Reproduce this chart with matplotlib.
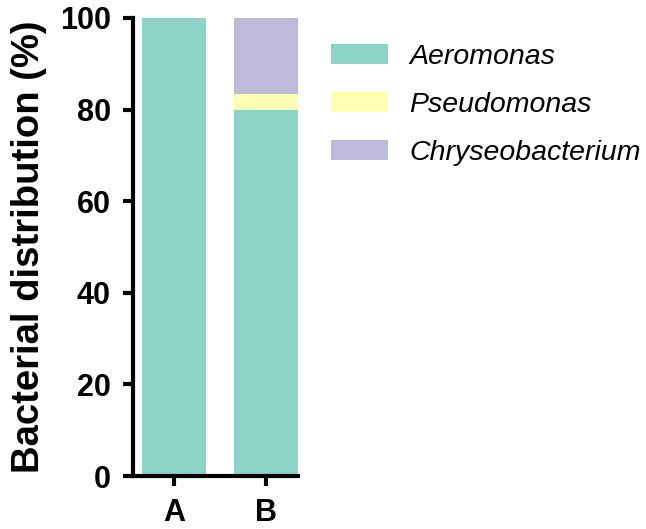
import matplotlib.pyplot as plt
import matplotlib as mpl
from matplotlib.patches import Patch

mpl.rcParams.update({
    "font.family": ["Liberation Sans", "DejaVu Sans"],
    "font.weight": "bold",
    "axes.linewidth": 3,
})

samples = ["A", "B"]
aeromonas = [100, 80]
pseudomonas = [0, 3.3]
chryseobacterium = [0, 16.7]

genera = ["Aeromonas", "Pseudomonas", "Chryseobacterium"]
colors = ["#8dd3c7", "#ffffb3", "#bebada"]

fig = plt.figure(figsize=(6.46, 5.29), dpi=100)
ax = fig.add_axes([0.206, 0.100, 0.255, 0.866])

x = list(range(len(samples)))
bottom = [0, 0]
for vals, c in zip([aeromonas, pseudomonas, chryseobacterium], colors):
    ax.bar(x, vals, width=0.7, bottom=bottom, color=c, linewidth=0)
    bottom = [b + v for b, v in zip(bottom, vals)]

ax.set_xlim(-0.45, 1.35)
ax.set_ylim(0, 100)
ax.set_yticks([0, 20, 40, 60, 80, 100])
ax.set_xticks(x)
ax.set_xticklabels(samples)
ax.tick_params(axis="both", width=3, length=7, labelsize=22, pad=9)
for lab in ax.get_xticklabels() + ax.get_yticklabels():
    lab.set_fontweight("bold")
ax.spines["top"].set_visible(False)
ax.spines["right"].set_visible(False)
ax.set_ylabel("Bacterial distribution (%)", fontsize=27.5, fontweight="bold", labelpad=9)

handles = [Patch(facecolor=c, edgecolor="none") for c in colors]
leg = fig.legend(handles, genera, loc="upper left", bbox_to_anchor=(0.512, 0.917),
                 frameon=False, handlelength=2.0, handleheight=0.7,
                 handletextpad=0.77, labelspacing=0.77, borderpad=0,
                 borderaxespad=0,
                 prop={"size": 20.5, "style": "italic", "weight": "normal"})

fig.savefig("out.png", dpi=100)
